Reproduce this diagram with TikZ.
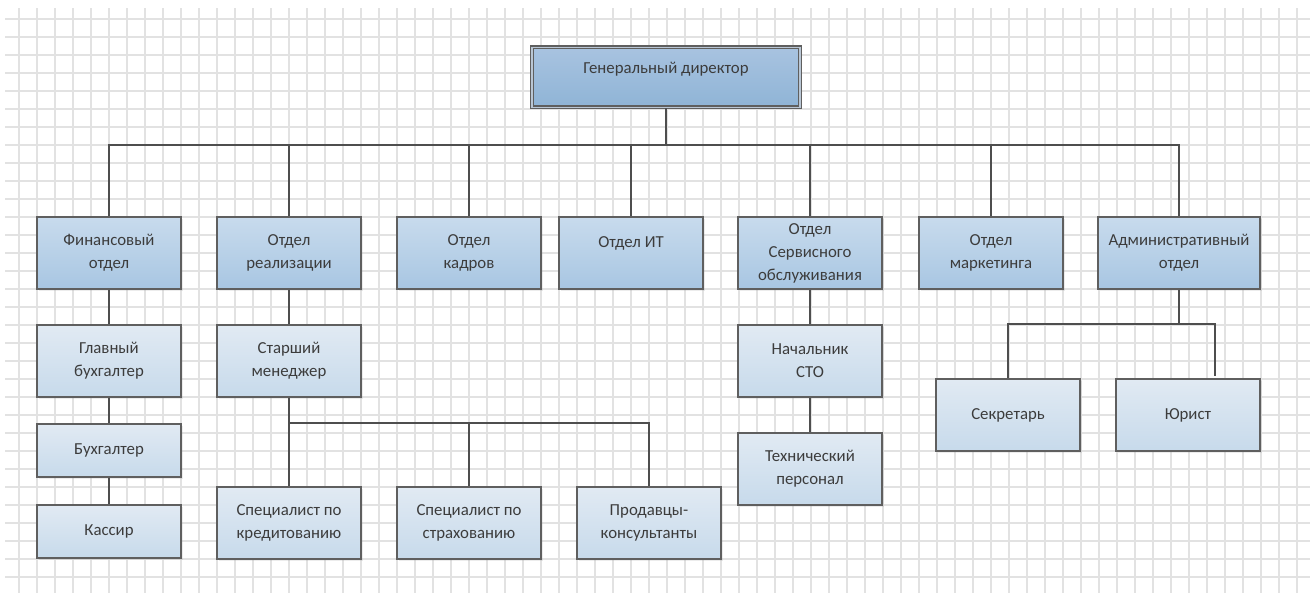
\documentclass[tikz,border=0pt]{standalone}
\usepackage{fontspec}
\setmainfont{Carlito}
\usepackage{tikz}
\usetikzlibrary{positioning,calc,shadows}

\definecolor{gridgray}{RGB}{226,226,226}
\definecolor{linegray}{RGB}{78,78,78}
\definecolor{boxborder}{RGB}{95,95,95}
\definecolor{textgray}{RGB}{60,60,60}
\definecolor{headTop}{RGB}{168,195,224}
\definecolor{headBot}{RGB}{143,180,214}
\definecolor{headGap}{RGB}{185,198,212}
\definecolor{deptTop}{RGB}{200,219,237}
\definecolor{deptBot}{RGB}{168,198,226}
\definecolor{unitTop}{RGB}{225,234,243}
\definecolor{unitBot}{RGB}{199,218,235}

\begin{document}
\begin{tikzpicture}[x=0.5pt, y=-0.5pt,
    box/.style={draw=boxborder, line width=0.75pt, minimum width=72pt, minimum height=36pt,
        inner sep=0pt, align=center, text=textgray, font=\fontsize{8.4}{11.5}\selectfont,
        drop shadow={shadow xshift=0.8pt, shadow yshift=-0.8pt, opacity=0.15}},
    dept/.style={box, top color=deptTop, bottom color=deptBot},
    unit/.style={box, top color=unitTop, bottom color=unitBot},
    short/.style={minimum height=26.5pt},
    link/.style={draw=linegray, line width=0.65pt}]
    \useasboundingbox (0,0) rectangle (1310,593);

    % Grid
    \foreach \k in {0,...,71}
        \draw[gridgray, line width=0.8pt] ({19+18*\k},8) -- ({19+18*\k},593);
    \foreach \k in {0,...,31}
        \draw[gridgray, line width=0.8pt] (5,{19+18*\k}) -- (1310,{19+18*\k});

    % Director
    \node[box, top color=headTop, bottom color=headBot, minimum width=134pt, minimum height=30pt,
        line width=0.55pt, double=headGap, double distance=0.9pt] (gen) at (666,77.5)
        {Генеральный директор\\[-5pt]\strut};

    % Departments
    \node[dept] (fin) at (109,253) {Финансовый\\отдел};
    \node[dept] (sales) at (289,253) {Отдел\\реализации};
    \node[dept] (hr) at (469,253) {Отдел\\кадров};
    \node[dept] (it) at (631,253) {Отдел ИТ\\[-4pt]\strut};
    \node[dept] (serv) at (810,253) {Отдел\\Сервисного\\обслуживания};
    \node[dept] (mkt) at (991,253) {Отдел\\маркетинга};
    \node[dept, minimum width=81pt] (adm) at (1179,253) {Административный\\отдел};

    % Finance
    \node[unit] (chiefacc) at (109,361) {Главный\\бухгалтер};
    \node[unit, short] (acc) at (109,450.5) {Бухгалтер};
    \node[unit, short] (cashier) at (109,531.5) {Кассир};

    % Sales
    \node[unit] (senior) at (289,361) {Старший\\менеджер};
    \node[unit] (credit) at (289,523) {Специалист по\\кредитованию};
    \node[unit] (insur) at (469,523) {Специалист по\\страхованию};
    \node[unit] (sellers) at (649,523) {Продавцы-\\консультанты};

    % Service
    \node[unit] (sto) at (810,361) {Начальник\\СТО};
    \node[unit] (tech) at (810,469) {Технический\\персонал};

    % Administration
    \node[unit] (secr) at (1008,415) {Секретарь};
    \node[unit] (lawyer) at (1188,415) {Юрист};

    % Connectors
    \coordinate (bus) at (666,145);
    \coordinate (salesbus) at (289,423);
    \coordinate (admbus) at (1179,324);
    \coordinate (lawyerend) at (1215,376);

    \draw[link] (gen.south) -- (bus);
    \draw[link] (fin.north) |- (bus) -| (adm.north);
    \foreach \d in {sales,hr,it,serv,mkt}
        \draw[link] (\d.north) -- (\d.north |- bus);

    \draw[link] (fin.south) -- (chiefacc.north);
    \draw[link] (chiefacc.south) -- (acc.north);
    \draw[link] (acc.south) -- (cashier.north);

    \draw[link] (sales.south) -- (senior.north);
    \draw[link] (senior.south) -- (credit.north);
    \draw[link] (salesbus) -| (insur.north);
    \draw[link] (salesbus) -| (sellers.north);

    \draw[link] (serv.south) -- (sto.north);
    \draw[link] (sto.south) -- (tech.north);

    \draw[link] (adm.south) -- (admbus);
    \draw[link] (secr.north) |- (admbus) -| (lawyerend);
\end{tikzpicture}
\end{document}
